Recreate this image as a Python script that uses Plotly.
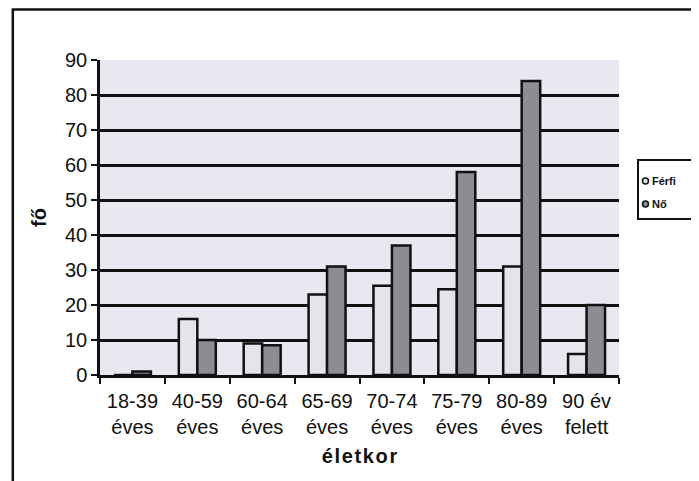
import plotly.graph_objects as go

categories = ["18-39<br>éves", "40-59<br>éves", "60-64<br>éves", "65-69<br>éves",
              "70-74<br>éves", "75-79<br>éves", "80-89<br>éves", "90 év<br>felett"]
ferfi = [0, 16, 9, 23, 25.5, 24.5, 31, 6]
no = [1, 10, 8.5, 31, 37, 58, 84, 20]
y_ticks = [0, 10, 20, 30, 40, 50, 60, 70, 80, 90]
series_names = ["Férfi", "Nő"]
series_colors = ["#e4e4ec", "#8c8c92"]

FONT = "Liberation Sans, Arial, sans-serif"
INK = "#111111"

fig = go.Figure()
for name, vals, col in zip(series_names, [ferfi, no], series_colors):
    fig.add_trace(go.Bar(name=name, x=categories, y=vals, showlegend=False,
                         marker=dict(color=col, line=dict(color=INK, width=2.5))))

# compact legend box (the original's legend is narrower than Plotly's own)
shapes = [
    dict(type="line", xref="paper", yref="paper",
         x0=-0.17, x1=1.2, y0=1.16, y1=1.16, line=dict(color=INK, width=2.5)),
    dict(type="line", xref="paper", yref="paper",
         x0=-0.168, x1=-0.168, y0=1.16, y1=-0.4, line=dict(color=INK, width=2.5)),
    dict(type="rect", xref="paper", yref="paper",
         x0=1.0366, x1=1.148, y0=0.495, y1=0.6825,
         fillcolor="white", line=dict(color=INK, width=2)),
]
annotations = []
legend_y = [0.616, 0.543]
for name, col, ly in zip(series_names, series_colors, legend_y):
    shapes.append(dict(type="circle", xref="paper", yref="paper",
                       xsizemode="pixel", ysizemode="pixel",
                       xanchor=1.051, yanchor=ly, x0=-3, x1=3, y0=-3, y1=3,
                       fillcolor=col, line=dict(color=INK, width=1.5)))
    annotations.append(dict(xref="paper", yref="paper", x=1.059, y=ly,
                            xanchor="left", yanchor="middle", showarrow=False,
                            text=f"<b>{name}</b>",
                            font=dict(size=11, family=FONT, color=INK)))

fig.update_layout(
    width=691, height=473,
    margin=dict(l=92, r=80, t=52, b=106, autoexpand=False),
    paper_bgcolor="white",
    plot_bgcolor="#e8e8f0",
    barmode="group", bargap=0.43, bargroupgap=0.0,
    font=dict(family=FONT, color=INK),
    showlegend=False,
    xaxis=dict(
        type="category", tickson="boundaries",
        ticks="outside", ticklen=6, tickwidth=2, tickcolor=INK,
        showline=True, linecolor=INK, linewidth=2.5,
        tickfont=dict(size=20, family=FONT, color=INK),
        ticklabelstandoff=6,
        title=dict(text="<b>é l e t k o r</b>".replace(" ", "\u200a"),
                   font=dict(size=20, family=FONT), standoff=13),
        showgrid=False, automargin=False,
    ),
    yaxis=dict(
        range=[0, 90], tickvals=y_ticks,
        ticks="outside", ticklen=6, tickwidth=2, tickcolor=INK,
        showline=True, linecolor=INK, linewidth=2.5,
        showgrid=True, gridcolor=INK, gridwidth=2.5,
        zeroline=False,
        tickfont=dict(size=20, family=FONT, color=INK),
        title=dict(text="<b>fő</b>", font=dict(size=20, family=FONT), standoff=14),
        automargin=False,
    ),
    shapes=shapes,
    annotations=annotations,
)

fig.write_html("out.html")
